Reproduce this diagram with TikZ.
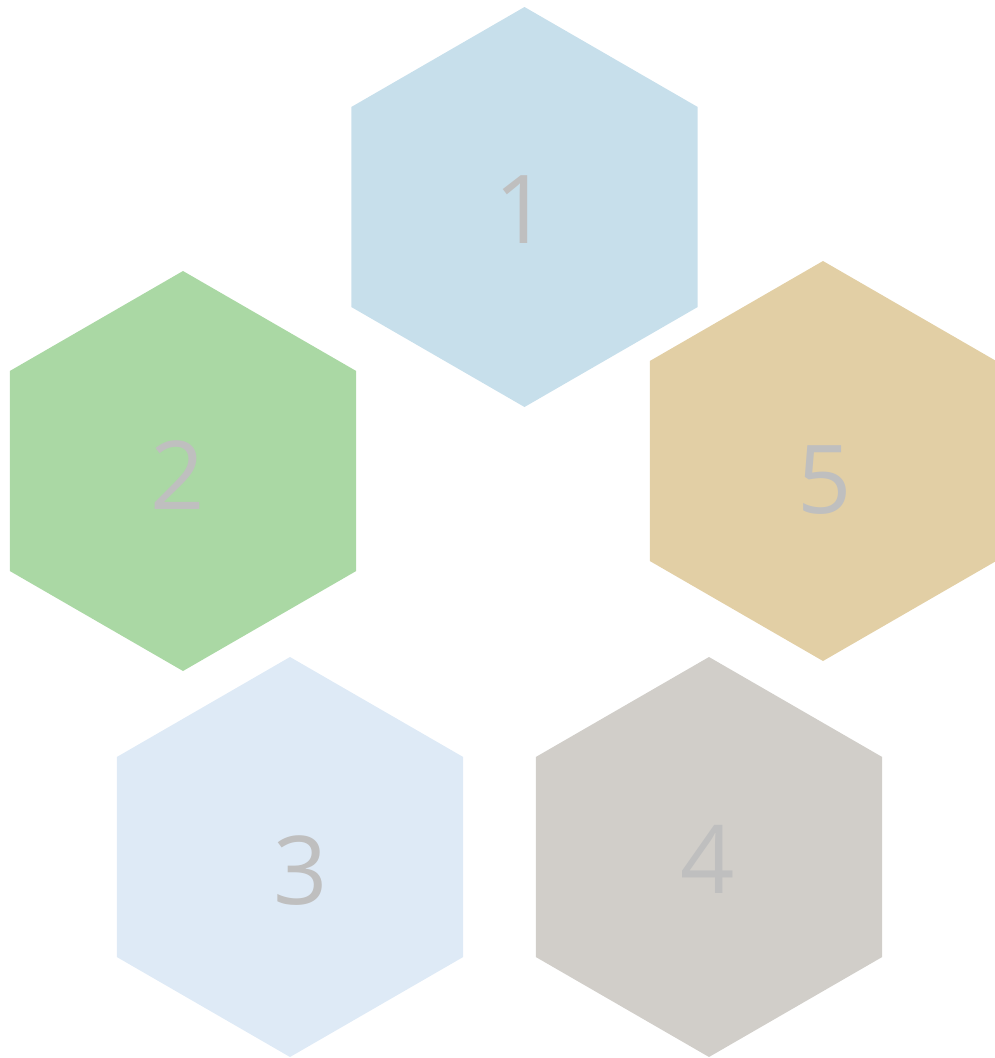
\documentclass[tikz,border=0pt]{standalone}
\usepackage{fontspec}
\setmainfont{Open Sans}
\usetikzlibrary{shapes.geometric}
\definecolor{hexA}{HTML}{C7DFEB}
\definecolor{hexB}{HTML}{AAD8A4}
\definecolor{hexC}{HTML}{DEEAF6}
\definecolor{hexD}{HTML}{D1CEC9}
\definecolor{hexE}{HTML}{E2CFA5}
\definecolor{numgray}{HTML}{BFBFBF}
\tikzset{
  hexagon/.style={regular polygon, regular polygon sides=6, shape border rotate=90,
    minimum size=400pt, inner sep=0pt, outer sep=0pt, draw=none, fill=#1},
  numtext/.style={text=numgray, font=\fontsize{95}{95}\selectfont, inner sep=0pt}
}
\begin{document}
\begin{tikzpicture}[x=1pt,y=-1pt]
\useasboundingbox (0,0) rectangle (994,1058);
\node[hexagon=hexA] (h1) at (524.5,207) {};
\node[hexagon=hexB] (h2) at (183,471) {};
\node[hexagon=hexC] (h3) at (290,857) {};
\node[hexagon=hexD] (h4) at (709,857) {};
\node[hexagon=hexE] (h5) at (823,461) {};
\node[numtext] (t1) at (522,210) {1};
\node[numtext] (t2) at (178,475.5) {2};
\node[numtext] (t3) at (301,871) {3};
\node[numtext] (t4) at (707.5,859) {4};
\node[numtext] (t5) at (825,480) {5};
\end{tikzpicture}
\end{document}
